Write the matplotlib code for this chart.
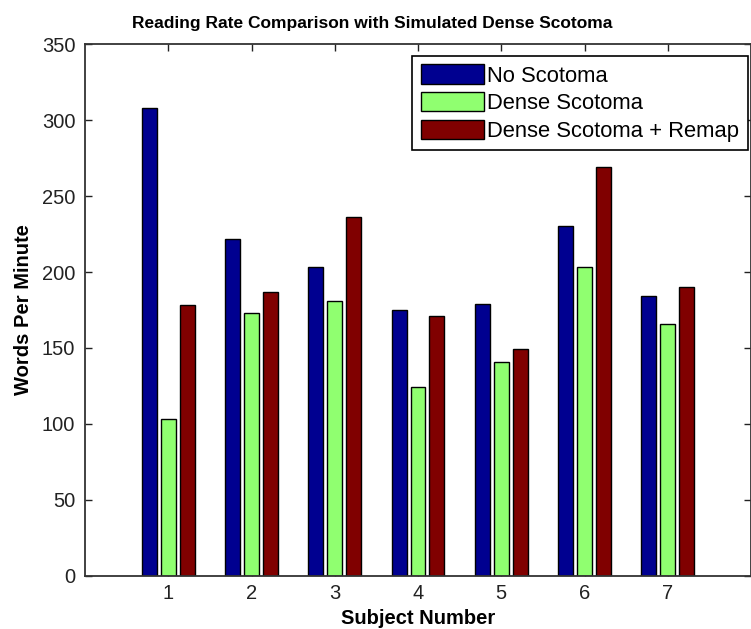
import matplotlib
matplotlib.use("Agg")
import matplotlib.pyplot as plt
import numpy as np

subjects = [1, 2, 3, 4, 5, 6, 7]
no_scotoma = [308, 222, 203, 175, 179, 230, 184]
dense_scotoma = [103, 173, 181, 124, 141, 203, 166]
dense_remap = [178, 187, 236, 171, 149, 269, 190]
series_names = ["No Scotoma", "Dense Scotoma", "Dense Scotoma + Remap"]
series_colors = ["#000090", "#90FF70", "#800000"]
y_ticks = [0, 50, 100, 150, 200, 250, 300, 350]

plt.rcParams["font.family"] = ["Liberation Sans", "DejaVu Sans"]

W, H = 751, 629
fig = plt.figure(figsize=(W / 100, H / 100), dpi=100)
ax = fig.add_axes([85 / W, 53.3 / H, 666 / W, 531.4 / H])

x = np.array(subjects, dtype=float)
offset = 0.228
width = 0.18
for i, (vals, name, col) in enumerate(zip([no_scotoma, dense_scotoma, dense_remap],
                                           series_names, series_colors)):
    ax.bar(x + (i - 1) * offset, vals, width=width, color=col,
           edgecolor="black", linewidth=1.0, label=name, zorder=2)

ax.set_xlim(0, 8)
ax.set_ylim(0, 350)
ax.set_xticks(subjects)
ax.set_yticks(y_ticks)
ax.tick_params(direction="in", length=5, width=1, top=True, right=True,
               labelsize=14.5, colors="#222222", pad=6)
ax.tick_params(axis="y", pad=7)
for s in ax.spines.values():
    s.set_linewidth(1.3)
    s.set_color("#333333")

fig.text(372.5 / W, (H - 28) / H,
         "Reading Rate Comparison with Simulated Dense Scotoma",
         fontsize=12.5, fontweight="bold", ha="center", va="baseline")
ax.set_xlabel("Subject Number", fontsize=14.5, fontweight="bold", labelpad=4)
ax.set_ylabel("Words Per Minute", fontsize=14.5, fontweight="bold", labelpad=6)

leg = ax.legend(loc="upper right", bbox_to_anchor=(0.9955, 0.9786),
                borderaxespad=0, fontsize=15.8, fancybox=False, framealpha=1,
                edgecolor="black", handlelength=2.88, handleheight=0.96,
                handletextpad=0.15, labelspacing=0.25, borderpad=0.4)
leg.get_frame().set_linewidth(1.2)

fig.savefig("out.png", dpi=100)
